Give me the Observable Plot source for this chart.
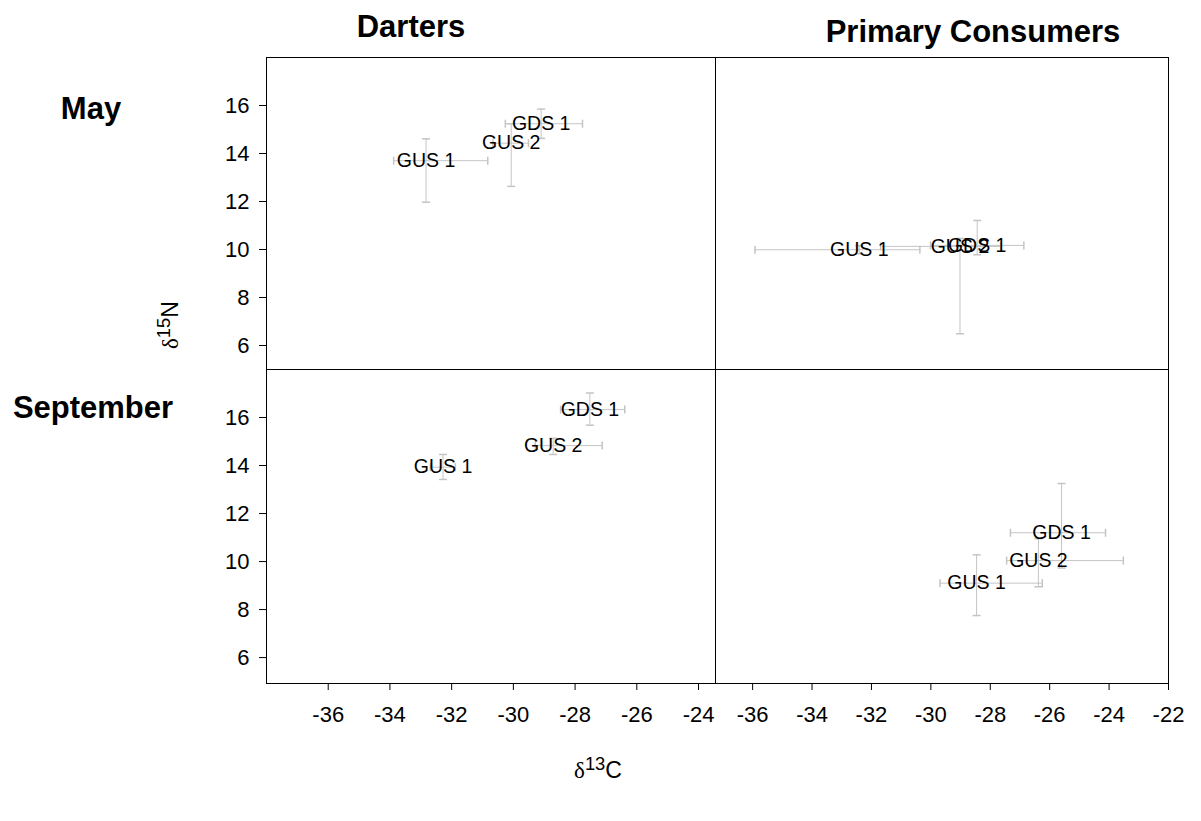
<!DOCTYPE html>
<html>
<head>
<meta charset="utf-8">
<script src="https://cdn.jsdelivr.net/npm/d3@7"></script>
<script src="https://cdn.jsdelivr.net/npm/@observablehq/plot@0.6"></script>
<style>
  html, body { margin: 0; padding: 0; background: #fff; }
  #root { position: relative; width: 1201px; height: 821px; overflow: hidden;
          font-family: "Liberation Sans", Arial, sans-serif; color: #000; background: #fff; }
  .lab { position: absolute; white-space: nowrap; transform: translate(-50%, -50%); }
  .ttl { font-weight: bold; font-size: 31px; }
  .ax { font-size: 23px; }
  .ax .d { font-family: "Liberation Serif", "DejaVu Serif", serif; }
  .ax sup { font-size: 80%; vertical-align: 0.4em; line-height: 0; }
  .pnl { position: absolute; }
</style>
</head>
<body>
<div id="root"></div>
<script>
// ---------- data ----------
const sites = ["GUS 1", "GUS 2", "GDS 1"];
const columns = ["Darters", "Primary Consumers"];
const rows = ["May", "September"];

// each row: [d13C mean, d13C low, d13C high, d15N mean, d15N low, d15N high]
const mayDarters = [
  [-32.83, -33.88, -30.83, 13.70, 11.97, 14.61],
  [-30.07, -30.66, -29.51, 14.43, 12.63, 15.24],
  [-29.10, -30.26, -27.76, 15.24, 14.63, 15.85]
];
const mayPrimary = [
  [-32.41, -35.92, -30.37, 9.99, 9.82, 10.16],
  [-29.02, -31.69, -27.65, 10.13, 6.49, 10.46],
  [-28.44, -30.01, -26.87, 10.17, 9.78, 11.21]
];
const sepDarters = [
  [-32.28, -32.69, -31.88, 13.93, 13.42, 14.46],
  [-28.71, -29.29, -27.12, 14.83, 14.46, 15.13],
  [-27.52, -28.47, -26.39, 16.33, 15.68, 17.02]
];
const sepPrimary = [
  [-28.46, -29.69, -26.25, 9.10, 7.75, 10.28],
  [-26.38, -27.45, -23.52, 10.04, 8.95, 10.95],
  [-25.60, -27.32, -24.12, 11.20, 9.73, 13.25]
];

const yTicks = [6, 8, 10, 12, 14, 16];
const xTicksDarters = [-36, -34, -32, -30, -28, -26, -24];
const xTicksPrimary = [-36, -34, -32, -30, -28, -26, -24, -22];
const yDomainMay = [5, 18];
const yDomainSep = [4.92, 18];
const xDomainDarters = [-38, -23.45];
const xDomainPrimary = [-37.25, -22];

// ---------- drawing ----------
const root = document.getElementById("root");
const ebColor = "#c4c4c4";
const vcap = { draw(ctx, size) { const r = Math.sqrt(size / Math.PI); ctx.moveTo(0, -r); ctx.lineTo(0, r); } };
const hcap = { draw(ctx, size) { const r = Math.sqrt(size / Math.PI); ctx.moveTo(-r, 0); ctx.lineTo(r, 0); } };

function panel(values, xDomain, xTicks, yDomain, showX, showY, fx, fy, fw, fh) {
  const mL = 80, mR = 4, mT = 4, mB = 60;
  const data = values.map((r, i) => ({ site: sites[i], x: r[0], xlo: r[1], xhi: r[2], y: r[3], ylo: r[4], yhi: r[5] }));
  const marks = [
    Plot.ruleY(data, { y: "y", x1: "xlo", x2: "xhi", stroke: ebColor, strokeWidth: 1 }),
    Plot.ruleX(data, { x: "x", y1: "ylo", y2: "yhi", stroke: ebColor, strokeWidth: 1 }),
    Plot.dot(data, { x: "xlo", y: "y", symbol: vcap, r: 4, fill: "none", stroke: ebColor }),
    Plot.dot(data, { x: "xhi", y: "y", symbol: vcap, r: 4, fill: "none", stroke: ebColor }),
    Plot.dot(data, { x: "x", y: "ylo", symbol: hcap, r: 4, fill: "none", stroke: ebColor }),
    Plot.dot(data, { x: "x", y: "yhi", symbol: hcap, r: 4, fill: "none", stroke: ebColor }),
    Plot.text(data, { x: "x", y: "y", text: "site", fill: "#000", fontSize: 19.5 }),
    Plot.frame({ stroke: "#000", strokeWidth: 1 })
  ];
  if (showY) marks.push(Plot.axisY({ ticks: yTicks, tickSize: 7, tickPadding: 10, label: null, fontSize: 22, tickFormat: d => String(d) }));
  if (showX) marks.push(Plot.axisX({ ticks: xTicks, tickSize: 7, tickPadding: 16, label: null, fontSize: 22, tickFormat: d => String(d) }));
  const svg = Plot.plot({
    width: fw + mL + mR, height: fh + mT + mB,
    marginLeft: mL, marginRight: mR, marginTop: mT, marginBottom: mB,
    style: { fontFamily: '"Liberation Sans", Arial, sans-serif', fontSize: "22px", background: "transparent", color: "#000", overflow: "visible" },
    x: { domain: xDomain, axis: null },
    y: { domain: yDomain, axis: null },
    marks
  });
  svg.classList.add("pnl");
  svg.style.left = (fx - mL) + "px";
  svg.style.top = (fy - mT) + "px";
  root.appendChild(svg);
}

const L = 266, M = 715, R = 1168, T = 57, H = 369, B = 683;
panel(mayDarters, xDomainDarters, xTicksDarters, yDomainMay, false, true, L, T, M - L, H - T);
panel(mayPrimary, xDomainPrimary, xTicksPrimary, yDomainMay, false, false, M, T, R - M, H - T);
panel(sepDarters, xDomainDarters, xTicksDarters, yDomainSep, true, true, L, H, M - L, B - H);
panel(sepPrimary, xDomainPrimary, xTicksPrimary, yDomainSep, true, false, M, H, R - M, B - H);

function label(html, cls, x, y, rotate) {
  const d = document.createElement("div");
  d.className = "lab " + cls;
  d.innerHTML = html;
  d.style.left = x + "px";
  d.style.top = y + "px";
  if (rotate) d.style.transform = "translate(-50%, -50%) rotate(-90deg)";
  root.appendChild(d);
}
label(columns[0], "ttl", 411, 27);
label(columns[1], "ttl", 973, 32);
label(rows[0], "ttl", 91, 109);
label(rows[1], "ttl", 93, 408);
label('<span class="d">δ</span><sup>15</sup>N', "ax", 170, 325, true);
label('<span class="d">δ</span><sup>13</sup>C', "ax", 598, 770);
</script>
</body>
</html>
